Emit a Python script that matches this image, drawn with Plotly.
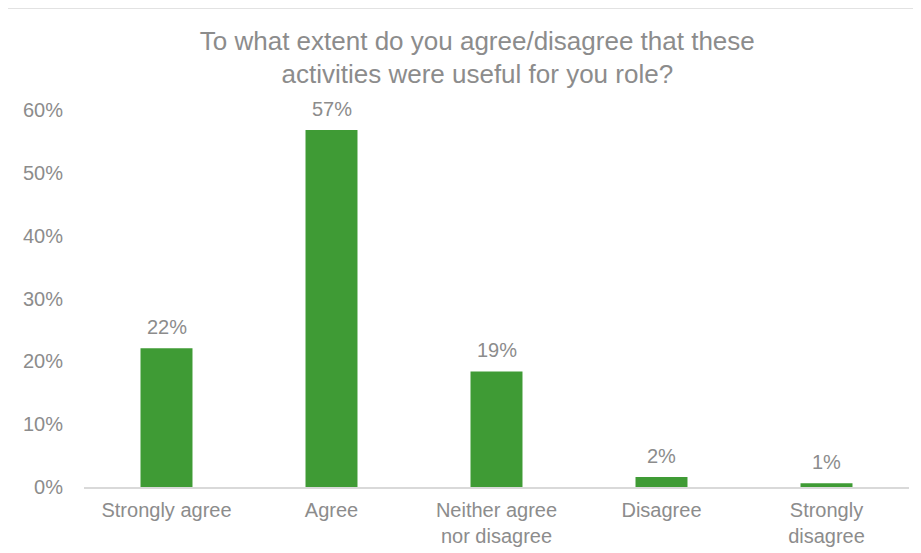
import plotly.graph_objects as go

categories = ["Strongly agree", "Agree", "Neither agree<br>nor disagree", "Disagree", "Strongly<br>disagree"]
values = [0.221, 0.568, 0.184, 0.016, 0.006]
value_labels = ["22%", "57%", "19%", "2%", "1%"]
y_ticks = [0, 0.1, 0.2, 0.3, 0.4, 0.5, 0.6]
y_tick_labels = ["0%", "10%", "20%", "30%", "40%", "50%", "60%"]

GRAY = "#8c8c8c"
FONT = "Liberation Sans, Arial, sans-serif"

fig = go.Figure(go.Bar(
    x=categories, y=values,
    marker=dict(color="#3f9b35", line=dict(width=0)),
    width=0.315,
))

for c, v, t in zip(categories, values, value_labels):
    fig.add_annotation(
        x=c, y=v, text=t, showarrow=False, yanchor="bottom", yshift=8,
        font=dict(family=FONT, size=20, color=GRAY),
    )

W, H = 913, 545
L, R, T, B = 76, 12, 102, 66
pw, ph = W - L - R, H - T - B

def px_to_paper_x(px):
    return (px - 8 - L) / pw

def py_to_paper_y(py):
    return (H - B - (py - 8)) / ph

fig.update_layout(
    width=W, height=H,
    margin=dict(l=L, r=R, t=T, b=B, autoexpand=False),
    paper_bgcolor="white", plot_bgcolor="white",
    showlegend=False,
    title=dict(
        text="To what extent do you agree/disagree that these<br>activities were useful for you role?",
        x=0.514, xanchor="center", y=1 - 41.5 / H, yanchor="middle",
        font=dict(family=FONT, size=26, color=GRAY),
    ),
    xaxis=dict(
        showgrid=False, showline=True, linecolor="#d9d9d9", linewidth=1.5,
        ticks="", tickfont=dict(family=FONT, size=20, color=GRAY),
        ticklabelstandoff=4,
    ),
    yaxis=dict(
        range=[0, 0.6], tickvals=y_ticks, ticktext=y_tick_labels,
        showgrid=False, zeroline=False, showline=False, ticks="",
        tickfont=dict(family=FONT, size=20, color=GRAY), ticklabelstandoff=20,
    ),
    bargap=0.685,
    shapes=[dict(
        type="rect", xref="paper", yref="paper",
        x0=px_to_paper_x(6), x1=px_to_paper_x(940),
        y0=py_to_paper_y(570), y1=py_to_paper_y(8),
        line=dict(color="#d9d9d9", width=1.5), fillcolor="rgba(0,0,0,0)", layer="below",
    )],
)

fig.write_html("out.html")
